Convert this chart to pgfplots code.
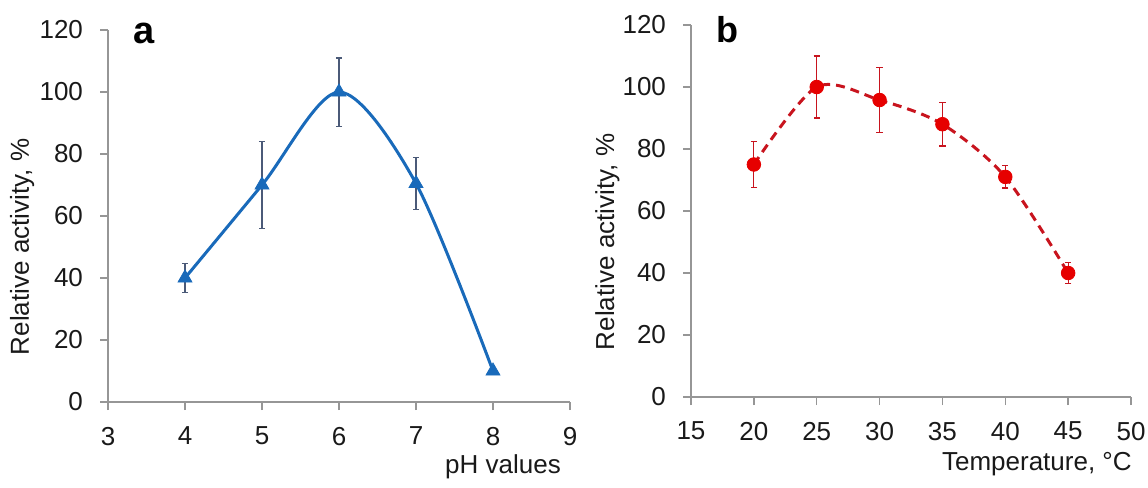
\documentclass[border=0pt]{standalone}
\usepackage{pgfplots}
\pgfplotsset{compat=1.18}
\usepackage{fontspec}
\setmainfont{Liberation Sans}
\definecolor{myblue}{RGB}{25,106,186}
\definecolor{errblue}{RGB}{75,90,120}
\definecolor{myred}{RGB}{230,0,0}
\definecolor{linered}{RGB}{200,20,30}
\definecolor{axgray}{RGB}{150,150,150}
\pgfplotsset{
  common/.style={
    scale only axis,
    height=186pt,
    axis x line=bottom, axis y line=left,
    axis line style={axgray, line width=0.7pt, -},
    tick style={axgray, line width=0.7pt},
    tick align=outside,
    major tick length=4pt,
    ymin=0, ymax=120, ytick={0,20,...,120},
    /pgf/number format/assume math mode=true,
    tick label style={font=\fontsize{13}{15}\selectfont, text=black!90},
    yticklabel style={xshift=-5pt},
    xticklabel style={yshift=-5pt},
    label style={font=\fontsize{13}{15}\selectfont, text=black!90},
    clip=false,
  }
}
\begin{document}
\begin{tikzpicture}
\useasboundingbox (0,0) rectangle (574pt,-244pt);
% Panel a
\begin{axis}[common,
  at={(54pt,-201pt)}, anchor=south west,
  width=231pt,
  xmin=3, xmax=9, xtick={3,...,9},
  xlabel={pH values},
  xlabel style={at={(axis description cs:0.855,-0.175)}, anchor=center},
  ylabel={Relative activity, \%},
  ylabel style={at={(axis description cs:-0.186,0.417)}, anchor=center},
]
\addplot[myblue, line width=1.5pt, smooth] coordinates {(4,40) (5,70) (6,100) (7,70.5) (8,10)};
\addplot[only marks, mark=triangle*, mark size=4pt, mark options={fill=myblue, draw=myblue},
  error bars/.cd, y dir=both, y explicit,
  error bar style={errblue, line width=0.6pt},
  error mark options={errblue, rotate=90, mark size=1.6pt, line width=0.6pt}]
  coordinates {(4,40) +- (0,4.8) (5,70) +- (0,14) (6,100) +- (0,11) (7,70.5) +- (0,8.5) (8,10) +- (0,0)};
\node[font=\bfseries\fontsize{19}{21}\selectfont, anchor=base] at (axis description cs:0.078,0.965) {a};
\end{axis}
% Panel b
\begin{axis}[common,
  at={(345.5pt,-198.5pt)}, anchor=south west,
  width=220pt,
  xmin=15, xmax=50, xtick={15,20,...,50},
  xlabel={Temperature, °C},
  xlabel style={at={(axis description cs:0.786,-0.18)}, anchor=center},
  ylabel={Relative activity, \%},
  ylabel style={at={(axis description cs:-0.19,0.417)}, anchor=center},
]
\addplot[linered, line width=1.5pt, smooth, dash pattern=on 4.5pt off 3pt] coordinates {(20,75) (25,100) (30,95.8) (35,88) (40,71) (45,40)};
\addplot[only marks, mark=*, mark size=3.4pt, mark options={fill=myred, draw=myred},
  error bars/.cd, y dir=both, y explicit,
  error bar style={linered, line width=0.6pt},
  error mark options={linered, rotate=90, mark size=1.6pt, line width=0.6pt}]
  coordinates {(20,75) +- (0,7.5) (25,100) +- (0,10) (30,95.8) +- (0,10.5) (35,88) +- (0,7) (40,71) +- (0,3.6) (45,40) +- (0,3.5)};
\node[font=\bfseries\fontsize{18}{20}\selectfont, anchor=base] at (axis description cs:0.084,0.952) {b};
\end{axis}
\end{tikzpicture}
\end{document}
